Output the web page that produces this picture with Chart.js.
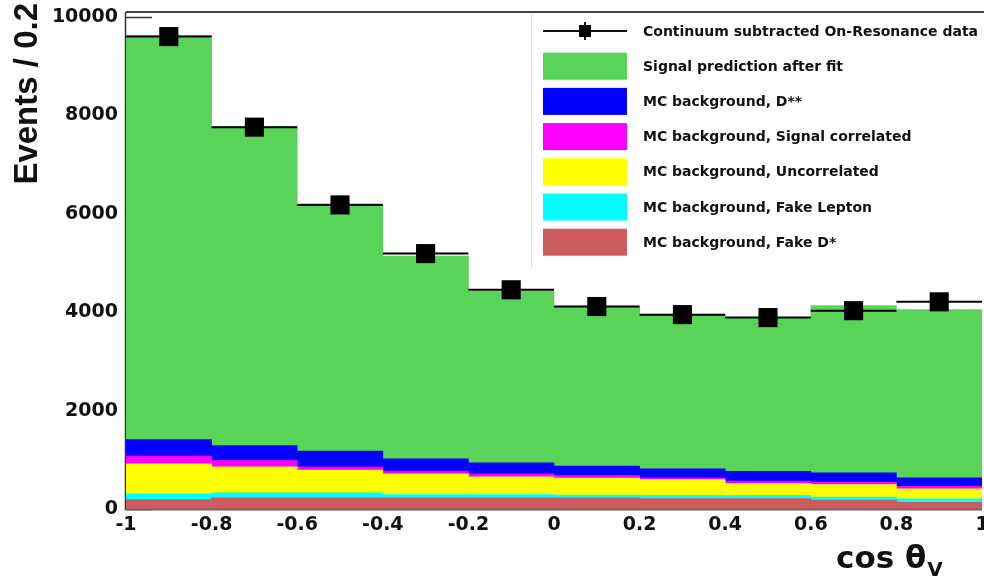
<!DOCTYPE html>
<html>
<head>
<meta charset="utf-8">
<script src="https://cdn.jsdelivr.net/npm/chart.js@4.4.1/dist/chart.umd.min.js"></script>
<style>
  body { margin: 0; background: #fff; }
  #wrap { width: 984px; height: 581px; }
</style>
</head>
<body>
<div id="wrap"><canvas id="chart" width="984" height="581"></canvas></div>
<script>
// bin centres of cos(theta_V), bin width 0.2
const binCenters = [-0.9, -0.7, -0.5, -0.3, -0.1, 0.1, 0.3, 0.5, 0.7, 0.9];
const binHalfWidth = [0.1, 0.1, 0.1, 0.1, 0.1, 0.1, 0.1, 0.1, 0.1, 0.1];

// stacked MC components (bottom -> top)
const fakeDstar     = [193, 228, 228, 228, 228, 228, 213, 213, 179, 138];
const fakeLepton    = [116, 102, 102, 67, 67, 53, 67, 67, 61, 69];
const uncorrelated  = [610, 528, 459, 421, 360, 346, 319, 238, 258, 203];
const sigCorrelated = [155, 128, 69, 53, 61, 55, 35, 47, 47, 53];
const dstarstar     = [339, 305, 317, 252, 224, 189, 183, 203, 191, 171];
const signalFit     = [8207, 6479, 5025, 4120, 3491, 3230, 3133, 3122, 3400, 3421];

// data points
const dataY   = [9600, 7760, 6180, 5190, 4455, 4115, 3950, 3890, 4030, 4210];
const dataErr = [98, 88, 79, 72, 67, 64, 63, 62, 63, 65];

const xTicks = [-1, -0.8, -0.6, -0.4, -0.2, 0, 0.2, 0.4, 0.6, 0.8, 1];
const yTicks = [0, 2000, 4000, 6000, 8000, 10000];
const yMax = 10100;

const TICK_FONT = { family: 'DejaVu Sans', weight: 'bold', size: 19 };

function pts(arr) {
    return arr.map((v, i) => ({ x: binCenters[i], y: v }));
}

function barSet(label, arr, color) {
    return {
        type: 'bar', label: label, data: pts(arr),
        backgroundColor: color, borderWidth: 0,
        barPercentage: 1, categoryPercentage: 1,
        yAxisID: 'y', stack: 'mc'
    };
}

const dataSet = {
    type: 'line', label: 'Continuum subtracted On-Resonance data',
    data: pts(dataY), showLine: false,
    pointStyle: 'rect', pointRadius: 13.5, pointHoverRadius: 13.5,
    backgroundColor: '#000', borderColor: '#000', borderWidth: 0,
    yAxisID: 'y2'
};

const stackSets = [
    barSet('MC background, Fake D*', fakeDstar, '#cd5c5f'),
    barSet('MC background, Fake Lepton', fakeLepton, '#00ffff'),
    barSet('MC background, Uncorrelated', uncorrelated, '#ffff00'),
    barSet('MC background, Signal correlated', sigCorrelated, '#ff00ff'),
    barSet('MC background, D**', dstarstar, '#0000ff'),
    barSet('Signal prediction after fit', signalFit, '#59d459')
];

// ticks inside the frame, drawn before the histograms so the fill hides them (ROOT style)
const frameBefore = {
    id: 'frameBefore',
    beforeDatasetsDraw(chart) {
        const { ctx, chartArea: a, scales } = chart;
        ctx.save();
        ctx.strokeStyle = '#333';
        ctx.lineWidth = 1.5;
        yTicks.forEach(v => {
            const y = Math.round(scales.y.getPixelForValue(v)) + 0.5;
            ctx.beginPath(); ctx.moveTo(a.left, y); ctx.lineTo(a.left + 26, y); ctx.stroke();
        });
        xTicks.slice(1, -1).forEach(v => {
            const x = Math.round(scales.x.getPixelForValue(v)) + 0.5;
            ctx.beginPath(); ctx.moveTo(x, a.bottom); ctx.lineTo(x, a.bottom - 15); ctx.stroke();
        });
        ctx.beginPath();
        ctx.moveTo(a.left - 0.5, a.top); ctx.lineTo(a.left - 0.5, a.bottom + 0.5);
        ctx.lineTo(a.right, a.bottom + 0.5);
        ctx.stroke();
        ctx.restore();
    },
    afterDatasetsDraw(chart) {
        const { ctx, chartArea: a, scales } = chart;
        ctx.save();
        // error bars of the data
        ctx.strokeStyle = '#000';
        ctx.lineWidth = 2;
        binCenters.forEach((c, i) => {
            const y = scales.y2.getPixelForValue(dataY[i]);
            const x0 = scales.x.getPixelForValue(c - binHalfWidth[i]);
            const x1 = scales.x.getPixelForValue(c + binHalfWidth[i]);
            const xc = scales.x.getPixelForValue(c);
            ctx.beginPath(); ctx.moveTo(x0, y); ctx.lineTo(x1, y); ctx.stroke();
            ctx.beginPath();
            ctx.moveTo(xc, scales.y2.getPixelForValue(dataY[i] - dataErr[i]));
            ctx.lineTo(xc, scales.y2.getPixelForValue(dataY[i] + dataErr[i]));
            ctx.stroke();
        });
        // frame top / bottom
        ctx.strokeStyle = '#444';
        ctx.lineWidth = 2;
        ctx.beginPath(); ctx.moveTo(a.left, a.top); ctx.lineTo(984, a.top); ctx.stroke();
        ctx.strokeStyle = '#666';
        ctx.lineWidth = 1.5;
        ctx.beginPath(); ctx.moveTo(a.left, a.bottom + 0.5); ctx.lineTo(a.right, a.bottom + 0.5); ctx.stroke();
        ctx.restore();
    }
};

// legend box in the top right + axis titles
const rootLegend = {
    id: 'rootLegend',
    afterDraw(chart) {
        const { ctx } = chart;
        const order = [dataSet].concat(stackSets.slice().reverse());
        ctx.save();
        ctx.fillStyle = '#fff';
        ctx.fillRect(531, 13, 453, 254);
        ctx.strokeStyle = '#ddd';
        ctx.lineWidth = 1;
        ctx.beginPath(); ctx.moveTo(531.5, 14); ctx.lineTo(531.5, 267); ctx.stroke();

        ctx.font = 'bold 14px "DejaVu Sans"';
        ctx.textBaseline = 'middle';
        ctx.textAlign = 'left';
        order.forEach((ds, i) => {
            const yc = 31 + i * 35.2;
            if (ds === dataSet) {
                ctx.strokeStyle = '#111';
                ctx.lineWidth = 2;
                ctx.beginPath(); ctx.moveTo(543, yc); ctx.lineTo(627, yc); ctx.stroke();
                ctx.beginPath(); ctx.moveTo(585, yc - 9); ctx.lineTo(585, yc + 9); ctx.stroke();
                ctx.fillStyle = '#000';
                ctx.fillRect(579, yc - 6, 12, 12);
            } else {
                ctx.fillStyle = ds.backgroundColor;
                ctx.fillRect(543, yc - 13.5, 84, 27);
            }
            ctx.fillStyle = '#111';
            ctx.fillText(ds.label, 643, yc + 1);
        });

        // y title
        ctx.fillStyle = '#111';
        ctx.font = 'bold 33px "Liberation Sans"';
        ctx.save();
        ctx.translate(28, 3);
        ctx.rotate(-Math.PI / 2);
        ctx.textAlign = 'right';
        ctx.textBaseline = 'middle';
        ctx.fillText('Events / 0.2', 0, 0);
        ctx.restore();

        // x title with subscript
        ctx.textAlign = 'left';
        ctx.textBaseline = 'alphabetic';
        ctx.font = 'bold 31px "DejaVu Sans"';
        const main = 'cos \u03b8';
        ctx.fillText(main, 836, 568);
        const w = ctx.measureText(main).width;
        ctx.font = 'bold 20px "DejaVu Sans"';
        ctx.fillText('V', 836 + w + 1, 576);
        ctx.restore();
    }
};

new Chart(document.getElementById('chart'), {
    type: 'bar',
    data: { datasets: [dataSet].concat(stackSets) },
    options: {
        responsive: false,
        animation: false,
        layout: { autoPadding: false, padding: { top: 12, right: 2, left: 0, bottom: 0 } },
        plugins: { legend: { display: false }, tooltip: { enabled: false } },
        scales: {
            x: {
                type: 'linear', min: -1, max: 1, offset: false, stacked: true,
                grid: { display: false, drawTicks: false },
                border: { display: false },
                afterBuildTicks: s => { s.ticks = xTicks.map(v => ({ value: v })); },
                afterFit: s => { s.height = 72; s.paddingLeft = 0; s.paddingRight = 0; },
                ticks: {
                    padding: 5, color: '#111', font: TICK_FONT, maxRotation: 0, autoSkip: false,
                    callback: v => String(Math.round(v * 10) / 10)
                }
            },
            y: {
                type: 'linear', min: 0, max: yMax, stacked: true,
                grid: { display: false, drawTicks: false },
                border: { display: false },
                afterBuildTicks: s => { s.ticks = yTicks.map(v => ({ value: v })); },
                afterFit: s => { s.width = 126; s.paddingTop = 0; s.paddingBottom = 0; },
                ticks: { padding: 8, color: '#111', font: TICK_FONT, callback: v => String(v) }
            },
            y2: {
                type: 'linear', min: 0, max: yMax, display: false
            }
        }
    },
    plugins: [frameBefore, rootLegend]
});
</script>
</body>
</html>
